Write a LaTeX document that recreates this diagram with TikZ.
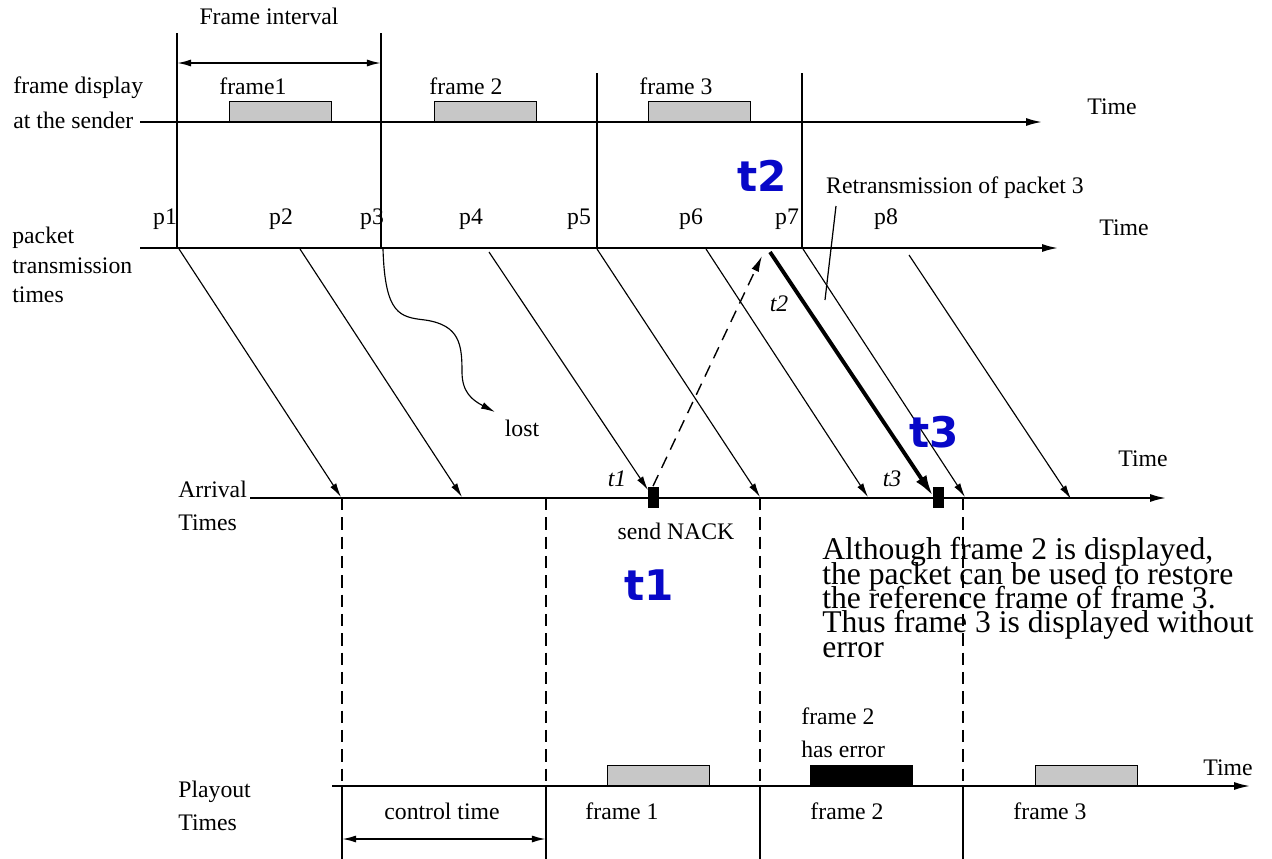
\documentclass[tikz,border=0pt]{standalone}
\usepackage{fontspec}
\setmainfont{Liberation Serif}
\setsansfont{DejaVu Sans}
\usetikzlibrary{arrows.meta}
\definecolor{tblue}{RGB}{8,8,200}
\newcommand\tightlines{\lineskiplimit=-50pt\relax\lineskip=0pt\relax}

\begin{document}
\begin{tikzpicture}[
        x=0.02cm, y=-0.02cm,
        font=\fontsize{13.5}{17}\selectfont,
        lab/.style={inner sep=0pt, align=left},
        axis/.style={line width=1pt, -{Latex[length=9pt, width=4.5pt]}},
        vline/.style={line width=0.7pt},
        gapline/.style={line width=0.7pt, dash pattern=on 7pt off 4pt},
        pkt/.style={line width=0.65pt, -{Latex[length=8pt, width=4pt]}},
        frm/.style={draw, line width=0.8pt, fill=black!22, inner sep=0pt,
                    minimum width=2.04cm, minimum height=0.4cm, anchor=south west},
        nackbox/.style={fill=black, inner sep=0pt,
                        minimum width=0.22cm, minimum height=0.42cm},
        tlab/.style={font=\fontsize{24}{28}\selectfont\sffamily\bfseries,
                     text=tblue, inner sep=0pt},
        ital/.style={font=\fontsize{13.5}{16}\selectfont\itshape, inner sep=0pt},
        span/.style={line width=1pt,
                     {Latex[length=8pt, width=4pt]}-{Latex[length=8pt, width=4pt]}}
    ]
    \useasboundingbox (0,0) rectangle (1272,859);

    %% ---- sender row: frame display ----
    \coordinate (sendA) at (140,122);
    \coordinate (sendB) at (1042,122);
    \draw[axis] (sendA) -- (sendB);
    \node[lab, anchor=west] (sendlbl) at (13,103) {frame display\\[3pt]at the sender};
    \node (time1) at (1112,107) {Time};

    \node[frm] (sf1) at (229,122) {};
    \node[frm] (sf2) at (434,122) {};
    \node[frm] (sf3) at (648,122) {};
    \node (sf1lbl) at (253,86) {frame1};
    \node (sf2lbl) at (466,86) {frame 2};
    \node (sf3lbl) at (676,86) {frame 3};

    \coordinate (v1t) at (177,33);  \coordinate (v1b) at (177,248);
    \coordinate (v3t) at (381,33);  \coordinate (v3b) at (381,248);
    \coordinate (v5t) at (597,73);  \coordinate (v5b) at (597,248);
    \coordinate (v7t) at (802,73);  \coordinate (v7b) at (802,248);
    \draw[vline] (v1t) -- (v1b);
    \draw[vline] (v3t) -- (v3b);
    \draw[vline] (v5t) -- (v5b);
    \draw[vline] (v7t) -- (v7b);

    \coordinate (fiL) at (177,63);
    \coordinate (fiR) at (381,63);
    \draw[span] (fiL) -- (fiR);
    \node (filbl) at (269,16) {Frame interval};

    %% ---- packet transmission row ----
    \coordinate (txA) at (140,248);
    \coordinate (txB) at (1058,248);
    \draw[axis] (txA) -- (txB);
    \node[lab, anchor=west] (txlbl) at (12,265) {packet\\transmission\\times};
    \node (time2) at (1124,228) {Time};

    \node (p1lbl) at (165,219) {p1};
    \node (p2lbl) at (281,219) {p2};
    \node (p3lbl) at (372,219) {p3};
    \node (p4lbl) at (471,219) {p4};
    \node (p5lbl) at (579,219) {p5};
    \node (p6lbl) at (691,219) {p6};
    \node (p7lbl) at (787,219) {p7};
    \node (p8lbl) at (886,219) {p8};

    \node (retrlbl) at (955,188) {Retransmission of packet 3};
    \coordinate (retrA) at (836,206);
    \coordinate (retrB) at (825,300);
    \draw[vline] (retrA) -- (retrB);

    %% ---- arrival row ----
    \coordinate (arrA) at (250,498);
    \coordinate (arrB) at (1166,498);
    \draw[axis] (arrA) -- (arrB);
    \node[lab, anchor=west] (arrlbl) at (178,506) {Arrival\\[2pt]Times};
    \node (time3) at (1143,459) {Time};

    \node[nackbox] (nack1) at (653,497) {};
    \node[nackbox] (nack2) at (938,497) {};

    %% packets travelling down
    \coordinate (p1s) at (179,249);  \coordinate (p1e) at (341,497);
    \coordinate (p2s) at (300,249);  \coordinate (p2e) at (462,497);
    \coordinate (p4s) at (489,252);  \coordinate (p4e) at (648,490);
    \coordinate (p5s) at (597,249);  \coordinate (p5e) at (760,497);
    \coordinate (p6s) at (706,249);  \coordinate (p6e) at (868,497);
    \coordinate (p7s) at (803,249);  \coordinate (p7e) at (965,497);
    \coordinate (p8s) at (909,255);  \coordinate (p8e) at (1071,499);
    \coordinate (rts) at (770,252);  \coordinate (rte) at (933,496);
    \draw[pkt] (p1s) -- (p1e);
    \draw[pkt] (p2s) -- (p2e);
    \draw[pkt] (p4s) -- (p4e);
    \draw[pkt] (p5s) -- (p5e);
    \draw[pkt] (p6s) -- (p6e);
    \draw[pkt] (p7s) -- (p7e);
    \draw[pkt] (p8s) -- (p8e);
    \draw[line width=2.2pt, -{Latex[length=12pt, width=7pt]}] (rts) -- (rte);

    % lost packet 3
    \coordinate (p3s) at (383,249);
    \coordinate (p3e) at (495,412);
    \draw[pkt] (p3s) .. controls (385,315) and (400,317) .. (425,320)
        .. controls (460,325) and (462,345) .. (462,372)
        .. controls (462,392) and (472,400) .. (p3e);
    \node (lostlbl) at (522,428) {lost};

    % NACK back to sender
    \coordinate (t2pt) at (762,256);
    \draw[line width=0.8pt, dash pattern=on 7pt off 4.5pt,
          -{Latex[length=9pt, width=4.5pt]}] (nack1.north) -- (t2pt);
    \node (nacklbl) at (676,531) {send NACK};

    \node[ital] (t1lbl) at (617,479) {t1};
    \node[ital] (t2lbl) at (779,304) {t2};
    \node[ital] (t3lbl) at (892,479) {t3};

    \node[tlab] (bt2) at (762,176) {t2};
    \node[tlab] (bt1) at (649,585) {t1};
    \node[tlab] (bt3) at (934,432) {t3};

    \node[lab, anchor=north west,
          font=\fontsize{18}{13.9}\selectfont\tightlines]
        (note) at (822,537) {Although frame 2 is displayed,\\the packet can be used to restore\\the reference frame of frame 3.\\Thus frame 3 is displayed without\\error};

    %% ---- playout row ----
    \coordinate (g1a) at (342,498);  \coordinate (g1b) at (342,786);  \coordinate (g1c) at (342,859);
    \coordinate (g2a) at (546,498);  \coordinate (g2b) at (546,786);  \coordinate (g2c) at (546,859);
    \coordinate (g3a) at (760,498);  \coordinate (g3b) at (760,786);  \coordinate (g3c) at (760,859);
    \coordinate (g4a) at (963,498);  \coordinate (g4b) at (963,786);  \coordinate (g4c) at (963,859);
    \draw[gapline] (g1a) -- (g1b);
    \draw[gapline] (g2a) -- (g2b);
    \draw[gapline] (g3a) -- (g3b);
    \draw[gapline] (g4a) -- (g4b);
    \draw[vline] (g1b) -- (g1c);
    \draw[vline] (g2b) -- (g2c);
    \draw[vline] (g3b) -- (g3c);
    \draw[vline] (g4b) -- (g4c);

    \coordinate (playA) at (332,786);
    \coordinate (playB) at (1250,786);
    \draw[axis] (playA) -- (playB);
    \node[lab, anchor=west] (playlbl) at (178,806) {Playout\\[2pt]Times};
    \node (time4) at (1228,768) {Time};

    \node[frm] (pf1) at (607,786) {};
    \node[frm, fill=black] (pf2) at (810,786) {};
    \node[frm] (pf3) at (1035,786) {};
    \node[lab, anchor=west] (errlbl) at (801,733) {frame 2\\[2pt]has error};

    \node (ctlbl) at (442,811) {control time};
    \node (pf1lbl) at (622,811) {frame 1};
    \node (pf2lbl) at (847,811) {frame 2};
    \node (pf3lbl) at (1050,811) {frame 3};

    \coordinate (ctL) at (342,839);
    \coordinate (ctR) at (546,839);
    \draw[span] (ctL) -- (ctR);
\end{tikzpicture}
\end{document}
